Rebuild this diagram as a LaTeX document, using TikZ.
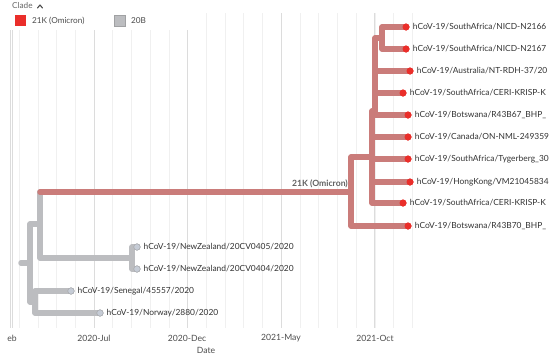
\documentclass[tikz,border=0pt]{standalone}
\usepackage{fontspec}
\setmainfont{Lato}
\usetikzlibrary{positioning}
\definecolor{omired}{RGB}{234,46,42}
\definecolor{omibranch}{RGB}{202,124,122}
\definecolor{bbranch}{RGB}{188,189,192}
\definecolor{btip}{RGB}{198,204,214}
\definecolor{gridminor}{RGB}{240,240,240}
\definecolor{gridmajor}{RGB}{220,220,220}
\tikzset{
  rbranch/.style={draw=omibranch, line width=5.5pt, line cap=round, line join=round},
  gbranch/.style={draw=bbranch, line width=5.5pt, line cap=round, line join=round},
  rtip/.style={circle, fill=omired, inner sep=0pt, minimum size=7pt},
  gtip/.style={circle, fill=btip, draw=bbranch!85!black, line width=0.4pt, inner sep=0pt, minimum size=6.5pt},
  tiplabel/.style={font=\fontsize{8.4}{9}\selectfont, text=black!80, inner sep=0pt},
  ticklabel/.style={font=\fontsize{8.6}{9}\selectfont, text=black!70, inner sep=0pt},
  legtext/.style={anchor=west, font=\fontsize{8.2}{9}\selectfont, text=black!70, inner sep=0pt},
}
\begin{document}
\begin{tikzpicture}[x=1pt,y=-1pt]
  \useasboundingbox (0,0) rectangle (554,359);
  \clip (0,0) rectangle (554,359);
  % time grid, one line a month
  \foreach \m in {1,...,22}
    \draw[gridminor, line width=0.8pt] ({0.5+18.72*\m},13) -- ({0.5+18.72*\m},328);
  \foreach \m in {5,10,15,20}
    \draw[gridmajor, line width=0.9pt] ({0.5+18.72*\m},13) -- ({0.5+18.72*\m},328);
  \draw[gridmajor, line width=0.7pt] (10,13) -- (10,328);
  \draw[gridmajor, line width=0.7pt] (12.5,13) -- (12.5,328);

  % legend
  \fill[white] (0,0) rectangle (198,30);
  \node[legtext, text=black!60] (cladehead) at (12,6) {Clade};
  \draw[black!70, line width=1.1pt, line cap=round, line join=round] (37.5,8) -- (40,5) -- (42.5,8);
  \fill[omired] (15,15) rectangle (26,26);
  \node[legtext] (legomi) at (32,20.5) {21K (Omicron)};
  \filldraw[fill=bbranch, draw=bbranch!85!black, line width=0.4pt] (114,15) rectangle (125,26);
  \node[legtext] (leg20b) at (131,20.5) {20B};

  % inner nodes of the tree
  \coordinate (r0) at (21,263);
  \coordinate (r) at (30,263);
  \coordinate (a) at (40,224);
  \coordinate (b) at (35,302);
  \coordinate (nz) at (132,258);
  \coordinate (o) at (351,192);
  \coordinate (p) at (372,157);
  \coordinate (q) at (375,111);
  \coordinate (ni) at (382,38);

  % tips
  \node[gtip] (nz05) at (137,247) {};
  \node[gtip] (nz04) at (137,269) {};
  \node[gtip] (sen) at (71,291) {};
  \node[gtip] (nor) at (100,313) {};
  \node[rtip] (t1) at (406,27) {};
  \node[rtip] (t2) at (406,49) {};
  \node[rtip] (t3) at (410,71) {};
  \node[rtip] (t4) at (403,93) {};
  \node[rtip] (t5) at (408,115) {};
  \node[rtip] (t6) at (408,137) {};
  \node[rtip] (t7) at (408,159) {};
  \node[rtip] (t8) at (410,182) {};
  \node[rtip] (t9) at (403,203) {};
  \node[rtip] (t10) at (408,226) {};

  % 20B branches
  \draw[gbranch] (r0) -- (r);
  \draw[gbranch] (r) |- (a);
  \draw[gbranch] (r) |- (b);
  \draw[gbranch] (a) -- (a |- o);
  \draw[gbranch] (a) |- (nz);
  \draw[gbranch] (nz) |- (nz05.center);
  \draw[gbranch] (nz) |- (nz04.center);
  \draw[gbranch] (b) |- (sen.center);
  \draw[gbranch] (b) |- (nor.center);

  % 21K branches
  \draw[rbranch] (a |- o) -- (o);
  \draw[rbranch] (o) |- (p);
  \draw[rbranch] (o) |- (t10.center);
  \draw[rbranch] (p) |- (q);
  \draw[rbranch] (q) |- (ni);
  \draw[rbranch] (ni) |- (t1.center);
  \draw[rbranch] (ni) |- (t2.center);
  \draw[rbranch] (q) |- (t3.center);
  \draw[rbranch] (q) |- (t4.center);
  \draw[rbranch] (q) |- (t5.center);
  \foreach \t in {t6,t7,t8,t9}
    \draw[rbranch] (p) |- (\t.center);

  % tips on top
  \foreach \t in {nz05,nz04,sen,nor}
    \node[gtip] at (\t) {};
  \foreach \t in {t1,t2,t3,t4,t5,t6,t7,t8,t9,t10}
    \node[rtip] at (\t) {};

  \node[anchor=south east, font=\fontsize{8.6}{9}\selectfont\bfseries, text=black!62, inner sep=0pt] (omilab) at ([xshift=-3pt,yshift=4pt]o) {21K (Omicron)};

  % tip labels
  \node[tiplabel, right=3pt of nz05] (lnz05) {hCoV-19/NewZealand/20CV0405/2020};
  \node[tiplabel, right=3pt of nz04] (lnz04) {hCoV-19/NewZealand/20CV0404/2020};
  \node[tiplabel, right=3pt of sen] (lsen) {hCoV-19/Senegal/45557/2020};
  \node[tiplabel, right=3pt of nor] (lnor) {hCoV-19/Norway/2880/2020};
  \node[tiplabel, right=3pt of t1] (l1) {hCoV-19/SouthAfrica/NICD-N2166};
  \node[tiplabel, right=3pt of t2] (l2) {hCoV-19/SouthAfrica/NICD-N2167};
  \node[tiplabel, right=3pt of t3] (l3) {hCoV-19/Australia/NT-RDH-37/20};
  \node[tiplabel, right=3pt of t4] (l4) {hCoV-19/SouthAfrica/CERI-KRISP-K};
  \node[tiplabel, right=3pt of t5] (l5) {hCoV-19/Botswana/R43B67\_BHP\_};
  \node[tiplabel, right=3pt of t6] (l6) {hCoV-19/Canada/ON-NML-249359};
  \node[tiplabel, right=3pt of t7] (l7) {hCoV-19/SouthAfrica/Tygerberg\_30};
  \node[tiplabel, right=3pt of t8] (l8) {hCoV-19/HongKong/VM21045834};
  \node[tiplabel, right=3pt of t9] (l9) {hCoV-19/SouthAfrica/CERI-KRISP-K};
  \node[tiplabel, right=3pt of t10] (l10) {hCoV-19/Botswana/R43B70\_BHP\_};

  % time axis
  \node[ticklabel, anchor=east] (tfeb) at (17,338) {eb};
  \node[ticklabel] (tjul) at (94,338) {2020-Jul};
  \node[ticklabel] (tdec) at (187,338) {2020-Dec};
  \node[ticklabel] (tmay) at (281,338) {2021-May};
  \node[ticklabel] (toct) at (375,338) {2021-Oct};
  \node[ticklabel] (taxis) at (206,350) {Date};
\end{tikzpicture}
\end{document}
